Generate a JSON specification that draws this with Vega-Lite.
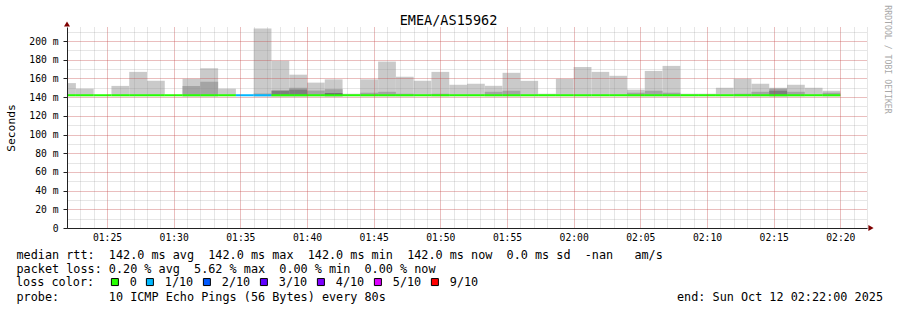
{
  "$schema": "https://vega.github.io/schema/vega-lite/v6.json",
  "width": 800,
  "height": 201,
  "autosize": {"type": "none"},
  "padding": {"left": 67, "top": 27, "right": 30, "bottom": 82},
  "background": "white",
  "config": {"view": {"stroke": null}},
  "datasets": {
    "smoke": [
      {"t0": "2025-10-12T01:21:20Z", "t1": "2025-10-12T01:22:40Z", "lo": 141, "hi": 155, "band": "outer"},
      {"t0": "2025-10-12T01:22:40Z", "t1": "2025-10-12T01:24:00Z", "lo": 141, "hi": 149, "band": "outer"},
      {"t0": "2025-10-12T01:25:20Z", "t1": "2025-10-12T01:26:40Z", "lo": 141, "hi": 152, "band": "outer"},
      {"t0": "2025-10-12T01:26:40Z", "t1": "2025-10-12T01:28:00Z", "lo": 141, "hi": 167, "band": "outer"},
      {"t0": "2025-10-12T01:28:00Z", "t1": "2025-10-12T01:29:20Z", "lo": 141, "hi": 157.5, "band": "outer"},
      {"t0": "2025-10-12T01:30:40Z", "t1": "2025-10-12T01:32:00Z", "lo": 141, "hi": 159.6, "band": "outer"},
      {"t0": "2025-10-12T01:32:00Z", "t1": "2025-10-12T01:33:20Z", "lo": 141, "hi": 171, "band": "outer"},
      {"t0": "2025-10-12T01:33:20Z", "t1": "2025-10-12T01:34:40Z", "lo": 141, "hi": 149, "band": "outer"},
      {"t0": "2025-10-12T01:36:00Z", "t1": "2025-10-12T01:37:20Z", "lo": 141, "hi": 213.5, "band": "outer"},
      {"t0": "2025-10-12T01:37:20Z", "t1": "2025-10-12T01:38:40Z", "lo": 141, "hi": 179, "band": "outer"},
      {"t0": "2025-10-12T01:38:40Z", "t1": "2025-10-12T01:40:00Z", "lo": 141, "hi": 164, "band": "outer"},
      {"t0": "2025-10-12T01:40:00Z", "t1": "2025-10-12T01:41:20Z", "lo": 141, "hi": 155.5, "band": "outer"},
      {"t0": "2025-10-12T01:41:20Z", "t1": "2025-10-12T01:42:40Z", "lo": 141, "hi": 159, "band": "outer"},
      {"t0": "2025-10-12T01:42:40Z", "t1": "2025-10-12T01:44:00Z", "lo": 141, "hi": 143.6, "band": "outer"},
      {"t0": "2025-10-12T01:44:00Z", "t1": "2025-10-12T01:45:20Z", "lo": 141, "hi": 159, "band": "outer"},
      {"t0": "2025-10-12T01:45:20Z", "t1": "2025-10-12T01:46:40Z", "lo": 141, "hi": 178, "band": "outer"},
      {"t0": "2025-10-12T01:46:40Z", "t1": "2025-10-12T01:48:00Z", "lo": 141, "hi": 161.8, "band": "outer"},
      {"t0": "2025-10-12T01:48:00Z", "t1": "2025-10-12T01:49:20Z", "lo": 141, "hi": 157.5, "band": "outer"},
      {"t0": "2025-10-12T01:49:20Z", "t1": "2025-10-12T01:50:40Z", "lo": 141, "hi": 167, "band": "outer"},
      {"t0": "2025-10-12T01:50:40Z", "t1": "2025-10-12T01:52:00Z", "lo": 141, "hi": 153.2, "band": "outer"},
      {"t0": "2025-10-12T01:52:00Z", "t1": "2025-10-12T01:53:20Z", "lo": 141, "hi": 154.3, "band": "outer"},
      {"t0": "2025-10-12T01:53:20Z", "t1": "2025-10-12T01:54:40Z", "lo": 141, "hi": 152.1, "band": "outer"},
      {"t0": "2025-10-12T01:54:40Z", "t1": "2025-10-12T01:56:00Z", "lo": 141, "hi": 166, "band": "outer"},
      {"t0": "2025-10-12T01:56:00Z", "t1": "2025-10-12T01:57:20Z", "lo": 141, "hi": 157.4, "band": "outer"},
      {"t0": "2025-10-12T01:57:20Z", "t1": "2025-10-12T01:58:40Z", "lo": 141, "hi": 143.6, "band": "outer"},
      {"t0": "2025-10-12T01:58:40Z", "t1": "2025-10-12T02:00:00Z", "lo": 141, "hi": 159.6, "band": "outer"},
      {"t0": "2025-10-12T02:00:00Z", "t1": "2025-10-12T02:01:20Z", "lo": 141, "hi": 172.3, "band": "outer"},
      {"t0": "2025-10-12T02:01:20Z", "t1": "2025-10-12T02:02:40Z", "lo": 141, "hi": 167, "band": "outer"},
      {"t0": "2025-10-12T02:02:40Z", "t1": "2025-10-12T02:04:00Z", "lo": 141, "hi": 162.8, "band": "outer"},
      {"t0": "2025-10-12T02:04:00Z", "t1": "2025-10-12T02:05:20Z", "lo": 141, "hi": 148, "band": "outer"},
      {"t0": "2025-10-12T02:05:20Z", "t1": "2025-10-12T02:06:40Z", "lo": 141, "hi": 168, "band": "outer"},
      {"t0": "2025-10-12T02:06:40Z", "t1": "2025-10-12T02:08:00Z", "lo": 141, "hi": 173.4, "band": "outer"},
      {"t0": "2025-10-12T02:08:00Z", "t1": "2025-10-12T02:09:20Z", "lo": 141, "hi": 143.6, "band": "outer"},
      {"t0": "2025-10-12T02:09:20Z", "t1": "2025-10-12T02:10:40Z", "lo": 141, "hi": 143.6, "band": "outer"},
      {"t0": "2025-10-12T02:10:40Z", "t1": "2025-10-12T02:12:00Z", "lo": 141, "hi": 150, "band": "outer"},
      {"t0": "2025-10-12T02:12:00Z", "t1": "2025-10-12T02:13:20Z", "lo": 141, "hi": 159.6, "band": "outer"},
      {"t0": "2025-10-12T02:13:20Z", "t1": "2025-10-12T02:14:40Z", "lo": 141, "hi": 154.3, "band": "outer"},
      {"t0": "2025-10-12T02:14:40Z", "t1": "2025-10-12T02:16:00Z", "lo": 141, "hi": 150, "band": "outer"},
      {"t0": "2025-10-12T02:16:00Z", "t1": "2025-10-12T02:17:20Z", "lo": 141, "hi": 153.2, "band": "outer"},
      {"t0": "2025-10-12T02:17:20Z", "t1": "2025-10-12T02:18:40Z", "lo": 141, "hi": 150, "band": "outer"},
      {"t0": "2025-10-12T02:18:40Z", "t1": "2025-10-12T02:20:00Z", "lo": 141, "hi": 146.8, "band": "outer"},
      {"t0": "2025-10-12T01:30:40Z", "t1": "2025-10-12T01:32:00Z", "lo": 141, "hi": 152, "band": "inner"},
      {"t0": "2025-10-12T01:32:00Z", "t1": "2025-10-12T01:33:20Z", "lo": 141, "hi": 156.5, "band": "inner"},
      {"t0": "2025-10-12T01:36:00Z", "t1": "2025-10-12T01:37:20Z", "lo": 141, "hi": 144, "band": "inner"},
      {"t0": "2025-10-12T01:38:40Z", "t1": "2025-10-12T01:40:00Z", "lo": 141, "hi": 150, "band": "inner"},
      {"t0": "2025-10-12T01:40:00Z", "t1": "2025-10-12T01:41:20Z", "lo": 141, "hi": 147, "band": "inner"},
      {"t0": "2025-10-12T01:41:20Z", "t1": "2025-10-12T01:42:40Z", "lo": 141, "hi": 148.5, "band": "inner"},
      {"t0": "2025-10-12T01:44:00Z", "t1": "2025-10-12T01:45:20Z", "lo": 141, "hi": 144.7, "band": "inner"},
      {"t0": "2025-10-12T01:45:20Z", "t1": "2025-10-12T01:46:40Z", "lo": 141, "hi": 145.7, "band": "inner"},
      {"t0": "2025-10-12T01:46:40Z", "t1": "2025-10-12T01:48:00Z", "lo": 141, "hi": 143.6, "band": "inner"},
      {"t0": "2025-10-12T01:49:20Z", "t1": "2025-10-12T01:50:40Z", "lo": 141, "hi": 143.6, "band": "inner"},
      {"t0": "2025-10-12T01:53:20Z", "t1": "2025-10-12T01:54:40Z", "lo": 141, "hi": 145.7, "band": "inner"},
      {"t0": "2025-10-12T01:54:40Z", "t1": "2025-10-12T01:56:00Z", "lo": 141, "hi": 146.8, "band": "inner"},
      {"t0": "2025-10-12T02:04:00Z", "t1": "2025-10-12T02:05:20Z", "lo": 141, "hi": 144.7, "band": "inner"},
      {"t0": "2025-10-12T02:05:20Z", "t1": "2025-10-12T02:06:40Z", "lo": 141, "hi": 146.8, "band": "inner"},
      {"t0": "2025-10-12T02:06:40Z", "t1": "2025-10-12T02:08:00Z", "lo": 141, "hi": 144.7, "band": "inner"},
      {"t0": "2025-10-12T02:12:00Z", "t1": "2025-10-12T02:13:20Z", "lo": 141, "hi": 143.6, "band": "inner"},
      {"t0": "2025-10-12T02:13:20Z", "t1": "2025-10-12T02:14:40Z", "lo": 141, "hi": 145.7, "band": "inner"},
      {"t0": "2025-10-12T02:14:40Z", "t1": "2025-10-12T02:16:00Z", "lo": 141, "hi": 149, "band": "inner"},
      {"t0": "2025-10-12T02:16:00Z", "t1": "2025-10-12T02:17:20Z", "lo": 141, "hi": 145.7, "band": "inner"},
      {"t0": "2025-10-12T02:18:40Z", "t1": "2025-10-12T02:20:00Z", "lo": 141, "hi": 144.7, "band": "inner"},
      {"t0": "2025-10-12T01:37:20Z", "t1": "2025-10-12T01:38:40Z", "lo": 141, "hi": 147, "band": "core"},
      {"t0": "2025-10-12T01:38:40Z", "t1": "2025-10-12T01:40:00Z", "lo": 141, "hi": 148, "band": "core"},
      {"t0": "2025-10-12T02:14:40Z", "t1": "2025-10-12T02:16:00Z", "lo": 141, "hi": 146.8, "band": "core"},
      {"t0": "2025-10-12T01:41:20Z", "t1": "2025-10-12T01:42:40Z", "lo": 141, "hi": 144, "band": "deep"}
    ],
    "median": [
      {"t": "2025-10-12T01:22:00Z", "rtt": 142, "loss": "0"},
      {"t": "2025-10-12T01:23:20Z", "rtt": 142, "loss": "0"},
      {"t": "2025-10-12T01:24:40Z", "rtt": 142, "loss": "0"},
      {"t": "2025-10-12T01:26:00Z", "rtt": 142, "loss": "0"},
      {"t": "2025-10-12T01:27:20Z", "rtt": 142, "loss": "0"},
      {"t": "2025-10-12T01:28:40Z", "rtt": 142, "loss": "0"},
      {"t": "2025-10-12T01:30:00Z", "rtt": 142, "loss": "0"},
      {"t": "2025-10-12T01:31:20Z", "rtt": 142, "loss": "0"},
      {"t": "2025-10-12T01:32:40Z", "rtt": 142, "loss": "0"},
      {"t": "2025-10-12T01:34:00Z", "rtt": 142, "loss": "0"},
      {"t": "2025-10-12T01:35:20Z", "rtt": 142, "loss": "1/10"},
      {"t": "2025-10-12T01:36:40Z", "rtt": 142, "loss": "1/10"},
      {"t": "2025-10-12T01:38:00Z", "rtt": 142, "loss": "0"},
      {"t": "2025-10-12T01:39:20Z", "rtt": 142, "loss": "0"},
      {"t": "2025-10-12T01:40:40Z", "rtt": 142, "loss": "0"},
      {"t": "2025-10-12T01:42:00Z", "rtt": 142, "loss": "0"},
      {"t": "2025-10-12T01:43:20Z", "rtt": 142, "loss": "0"},
      {"t": "2025-10-12T01:44:40Z", "rtt": 142, "loss": "0"},
      {"t": "2025-10-12T01:46:00Z", "rtt": 142, "loss": "0"},
      {"t": "2025-10-12T01:47:20Z", "rtt": 142, "loss": "0"},
      {"t": "2025-10-12T01:48:40Z", "rtt": 142, "loss": "0"},
      {"t": "2025-10-12T01:50:00Z", "rtt": 142, "loss": "0"},
      {"t": "2025-10-12T01:51:20Z", "rtt": 142, "loss": "0"},
      {"t": "2025-10-12T01:52:40Z", "rtt": 142, "loss": "0"},
      {"t": "2025-10-12T01:54:00Z", "rtt": 142, "loss": "0"},
      {"t": "2025-10-12T01:55:20Z", "rtt": 142, "loss": "0"},
      {"t": "2025-10-12T01:56:40Z", "rtt": 142, "loss": "0"},
      {"t": "2025-10-12T01:58:00Z", "rtt": 142, "loss": "0"},
      {"t": "2025-10-12T01:59:20Z", "rtt": 142, "loss": "0"},
      {"t": "2025-10-12T02:00:40Z", "rtt": 142, "loss": "0"},
      {"t": "2025-10-12T02:02:00Z", "rtt": 142, "loss": "0"},
      {"t": "2025-10-12T02:03:20Z", "rtt": 142, "loss": "0"},
      {"t": "2025-10-12T02:04:40Z", "rtt": 142, "loss": "0"},
      {"t": "2025-10-12T02:06:00Z", "rtt": 142, "loss": "0"},
      {"t": "2025-10-12T02:07:20Z", "rtt": 142, "loss": "0"},
      {"t": "2025-10-12T02:08:40Z", "rtt": 142, "loss": "0"},
      {"t": "2025-10-12T02:10:00Z", "rtt": 142, "loss": "0"},
      {"t": "2025-10-12T02:11:20Z", "rtt": 142, "loss": "0"},
      {"t": "2025-10-12T02:12:40Z", "rtt": 142, "loss": "0"},
      {"t": "2025-10-12T02:14:00Z", "rtt": 142, "loss": "0"},
      {"t": "2025-10-12T02:15:20Z", "rtt": 142, "loss": "0"},
      {"t": "2025-10-12T02:16:40Z", "rtt": 142, "loss": "0"},
      {"t": "2025-10-12T02:18:00Z", "rtt": 142, "loss": "0"},
      {"t": "2025-10-12T02:19:20Z", "rtt": 142, "loss": "0"}
    ]
  },
  "layer": [
    {
      "data": {"name": "smoke"},
      "mark": {"type": "rect", "clip": true},
      "encoding": {
        "x": {
          "field": "t0", "type": "temporal",
          "scale": {"type": "utc", "domain": [{"year": 2025, "month": 10, "date": 12, "hours": 1, "minutes": 22, "utc": true}, {"year": 2025, "month": 10, "date": 12, "hours": 2, "minutes": 22, "utc": true}]},
          "axis": {
            "orient": "top", "tickCount": 60,
            "grid": true, "gridColor": "#909090", "gridOpacity": 0.45, "gridDash": [1, 1], "gridWidth": 1,
            "labels": false, "ticks": false, "domain": false, "zindex": 1,
            "title": "EMEA/AS15962", "titleX": 381, "titleY": -3, "titleAlign": "center", "titleBaseline": "alphabetic",
            "titleFont": "DejaVu Sans Mono", "titleFontSize": 13.5, "titleFontWeight": "normal", "titleColor": "#000000"
          }
        },
        "x2": {"field": "t1"},
        "y": {
          "field": "lo", "type": "quantitative",
          "scale": {"domain": [0, 215], "nice": false},
          "axis": {
            "orient": "left", "values": [0, 10, 20, 30, 40, 50, 60, 70, 80, 90, 100, 110, 120, 130, 140, 150, 160, 170, 180, 190, 200, 210],
            "grid": true, "gridColor": "#909090", "gridOpacity": 0.45, "gridDash": [1, 1], "gridWidth": 1,
            "labels": false, "ticks": false, "domain": false, "title": null, "zindex": 1
          }
        },
        "y2": {"field": "hi"},
        "color": {
          "field": "band", "type": "nominal",
          "scale": {"domain": ["outer", "inner", "core", "deep"], "range": ["#cacaca", "#a4a4a4", "#7e7e7e", "#585858"]},
          "legend": null
        }
      }
    },
    {
      "data": {"name": "median"},
      "mark": {"type": "tick", "orient": "horizontal", "thickness": 2, "size": 17.8, "clip": true, "opacity": 1},
      "encoding": {
        "x": {
          "field": "t", "type": "temporal",
          "scale": {"type": "utc", "domain": [{"year": 2025, "month": 10, "date": 12, "hours": 1, "minutes": 22, "utc": true}, {"year": 2025, "month": 10, "date": 12, "hours": 2, "minutes": 22, "utc": true}]},
          "axis": {
            "orient": "bottom", "tickCount": 12,
            "grid": true, "gridColor": "#ff0000", "gridOpacity": 0.35, "gridDash": [1, 1], "gridWidth": 1,
            "labelExpr": "utcFormat(datum.value, '%H:%M')",
            "labelFont": "DejaVu Sans Mono", "labelFontSize": 9.7, "labelColor": "#000000",
            "labelBaseline": "alphabetic", "labelPadding": 12.7, "labelFlush": false, "labelOverlap": false,
            "ticks": false, "tickSize": 0, "domain": true, "domainColor": "#222222", "domainWidth": 1, "zindex": 1,
            "title": [
              "median\u00a0rtt:\u00a0\u00a0142.0\u00a0ms\u00a0avg\u00a0\u00a0142.0\u00a0ms\u00a0max\u00a0\u00a0142.0\u00a0ms\u00a0min\u00a0\u00a0142.0\u00a0ms\u00a0now\u00a0\u00a00.0\u00a0ms\u00a0sd\u00a0\u00a0-nan\u00a0\u00a0\u00a0am/s",
              "packet\u00a0loss:\u00a00.20\u00a0%\u00a0avg\u00a0\u00a05.62\u00a0%\u00a0max\u00a0\u00a00.00\u00a0%\u00a0min\u00a0\u00a00.00\u00a0%\u00a0now"
            ],
            "titleX": -51, "titleY": 30, "titleAlign": "left", "titleBaseline": "alphabetic", "titleLineHeight": 14,
            "titleFont": "DejaVu Sans Mono", "titleFontSize": 11.8, "titleFontWeight": "normal", "titleColor": "#000000"
          }
        },
        "y": {
          "field": "rtt", "type": "quantitative",
          "scale": {"domain": [0, 215], "nice": false},
          "axis": {
            "orient": "left", "values": [0, 20, 40, 60, 80, 100, 120, 140, 160, 180, 200],
            "grid": true, "gridColor": "#ff0000", "gridOpacity": 0.35, "gridDash": [1, 1], "gridWidth": 1,
            "labelExpr": "datum.value == 0 ? '0' : datum.value + ' m'",
            "labelFont": "DejaVu Sans Mono", "labelFontSize": 9.7, "labelColor": "#000000", "labelPadding": 5,
            "ticks": true, "tickSize": 4, "tickColor": "#222222", "domain": true, "domainColor": "#222222", "domainWidth": 1, "zindex": 1,
            "title": "Seconds", "titleX": -56, "titleY": 100.5, "titleAngle": 270, "titleAlign": "center", "titleBaseline": "middle",
            "titleFont": "DejaVu Sans Mono", "titleFontSize": 11.3, "titleFontWeight": "normal", "titleColor": "#000000"
          }
        },
        "color": {
          "field": "loss", "type": "nominal",
          "scale": {"domain": ["0", "1/10", "2/10", "3/10", "4/10", "5/10", "9/10"], "range": ["#26ff00", "#00b8ff", "#0059ff", "#5e00ff", "#7e00ff", "#dd00ff", "#ff0000"]},
          "legend": {
            "orient": "none", "legendX": -51, "legendY": 249, "direction": "horizontal", "padding": 0,
            "title": "loss color:", "titleOrient": "left", "titlePadding": 14, "titleBaseline": "middle",
            "titleFont": "DejaVu Sans Mono", "titleFontSize": 11.8, "titleFontWeight": "normal", "titleColor": "#000000",
            "labelFont": "DejaVu Sans Mono", "labelFontSize": 11.8, "labelColor": "#000000", "labelOffset": 9,
            "symbolType": "square", "symbolSize": 49, "symbolStrokeColor": "#000000", "symbolStrokeWidth": 1, "symbolOpacity": 1,
            "columnPadding": 7
          }
        }
      }
    },
    {
      "data": {"values": [{"t": "2025-10-12T02:22:00Z", "v": 0}]},
      "mark": {"type": "point", "shape": "triangle-right", "filled": true, "color": "#7f0000", "size": 36, "xOffset": 4, "opacity": 1},
      "encoding": {
        "x": {
          "field": "t", "type": "temporal",
          "scale": {"type": "utc", "domain": [{"year": 2025, "month": 10, "date": 12, "hours": 1, "minutes": 22, "utc": true}, {"year": 2025, "month": 10, "date": 12, "hours": 2, "minutes": 22, "utc": true}]},
          "axis": {
            "orient": "bottom", "labels": false, "ticks": false, "domain": false, "grid": false,
            "title": "probe:\u00a0\u00a0\u00a0\u00a0\u00a0\u00a0\u00a010\u00a0ICMP\u00a0Echo\u00a0Pings\u00a0(56\u00a0Bytes)\u00a0every\u00a080s\u00a0\u00a0\u00a0\u00a0\u00a0\u00a0\u00a0\u00a0\u00a0\u00a0\u00a0\u00a0\u00a0\u00a0\u00a0\u00a0\u00a0\u00a0\u00a0\u00a0\u00a0\u00a0\u00a0\u00a0\u00a0\u00a0\u00a0\u00a0\u00a0\u00a0\u00a0\u00a0\u00a0\u00a0\u00a0\u00a0\u00a0\u00a0\u00a0\u00a0\u00a0end:\u00a0Sun\u00a0Oct\u00a012\u00a002:22:00\u00a02025",
            "titleX": -51, "titleY": 72, "titleAlign": "left", "titleBaseline": "alphabetic",
            "titleFont": "DejaVu Sans Mono", "titleFontSize": 11.8, "titleFontWeight": "normal", "titleColor": "#000000"
          }
        },
        "y": {
          "field": "v", "type": "quantitative",
          "scale": {"domain": [0, 215], "nice": false},
          "axis": {
            "orient": "right", "labels": false, "ticks": false, "domain": false, "grid": false,
            "title": "RRDTOOL / TOBI OETIKER", "titleAngle": 90, "titleX": 19, "titleY": 32, "titleAlign": "center", "titleBaseline": "middle",
            "titleFont": "DejaVu Sans Mono", "titleFontSize": 8.2, "titleFontWeight": "normal", "titleColor": "#a8a8a8"
          }
        }
      }
    },
    {
      "data": {"values": [{"t": "2025-10-12T01:22:00Z", "v": 215}]},
      "mark": {"type": "point", "shape": "triangle-up", "filled": true, "color": "#7f0000", "size": 36, "yOffset": -3, "opacity": 1},
      "encoding": {
        "x": {
          "field": "t", "type": "temporal",
          "scale": {"type": "utc", "domain": [{"year": 2025, "month": 10, "date": 12, "hours": 1, "minutes": 22, "utc": true}, {"year": 2025, "month": 10, "date": 12, "hours": 2, "minutes": 22, "utc": true}]},
          "axis": null
        },
        "y": {
          "field": "v", "type": "quantitative",
          "scale": {"domain": [0, 215], "nice": false},
          "axis": null
        }
      }
    }
  ],
  "resolve": {"scale": {"color": "independent"}, "axis": {"x": "independent", "y": "independent"}}
}
